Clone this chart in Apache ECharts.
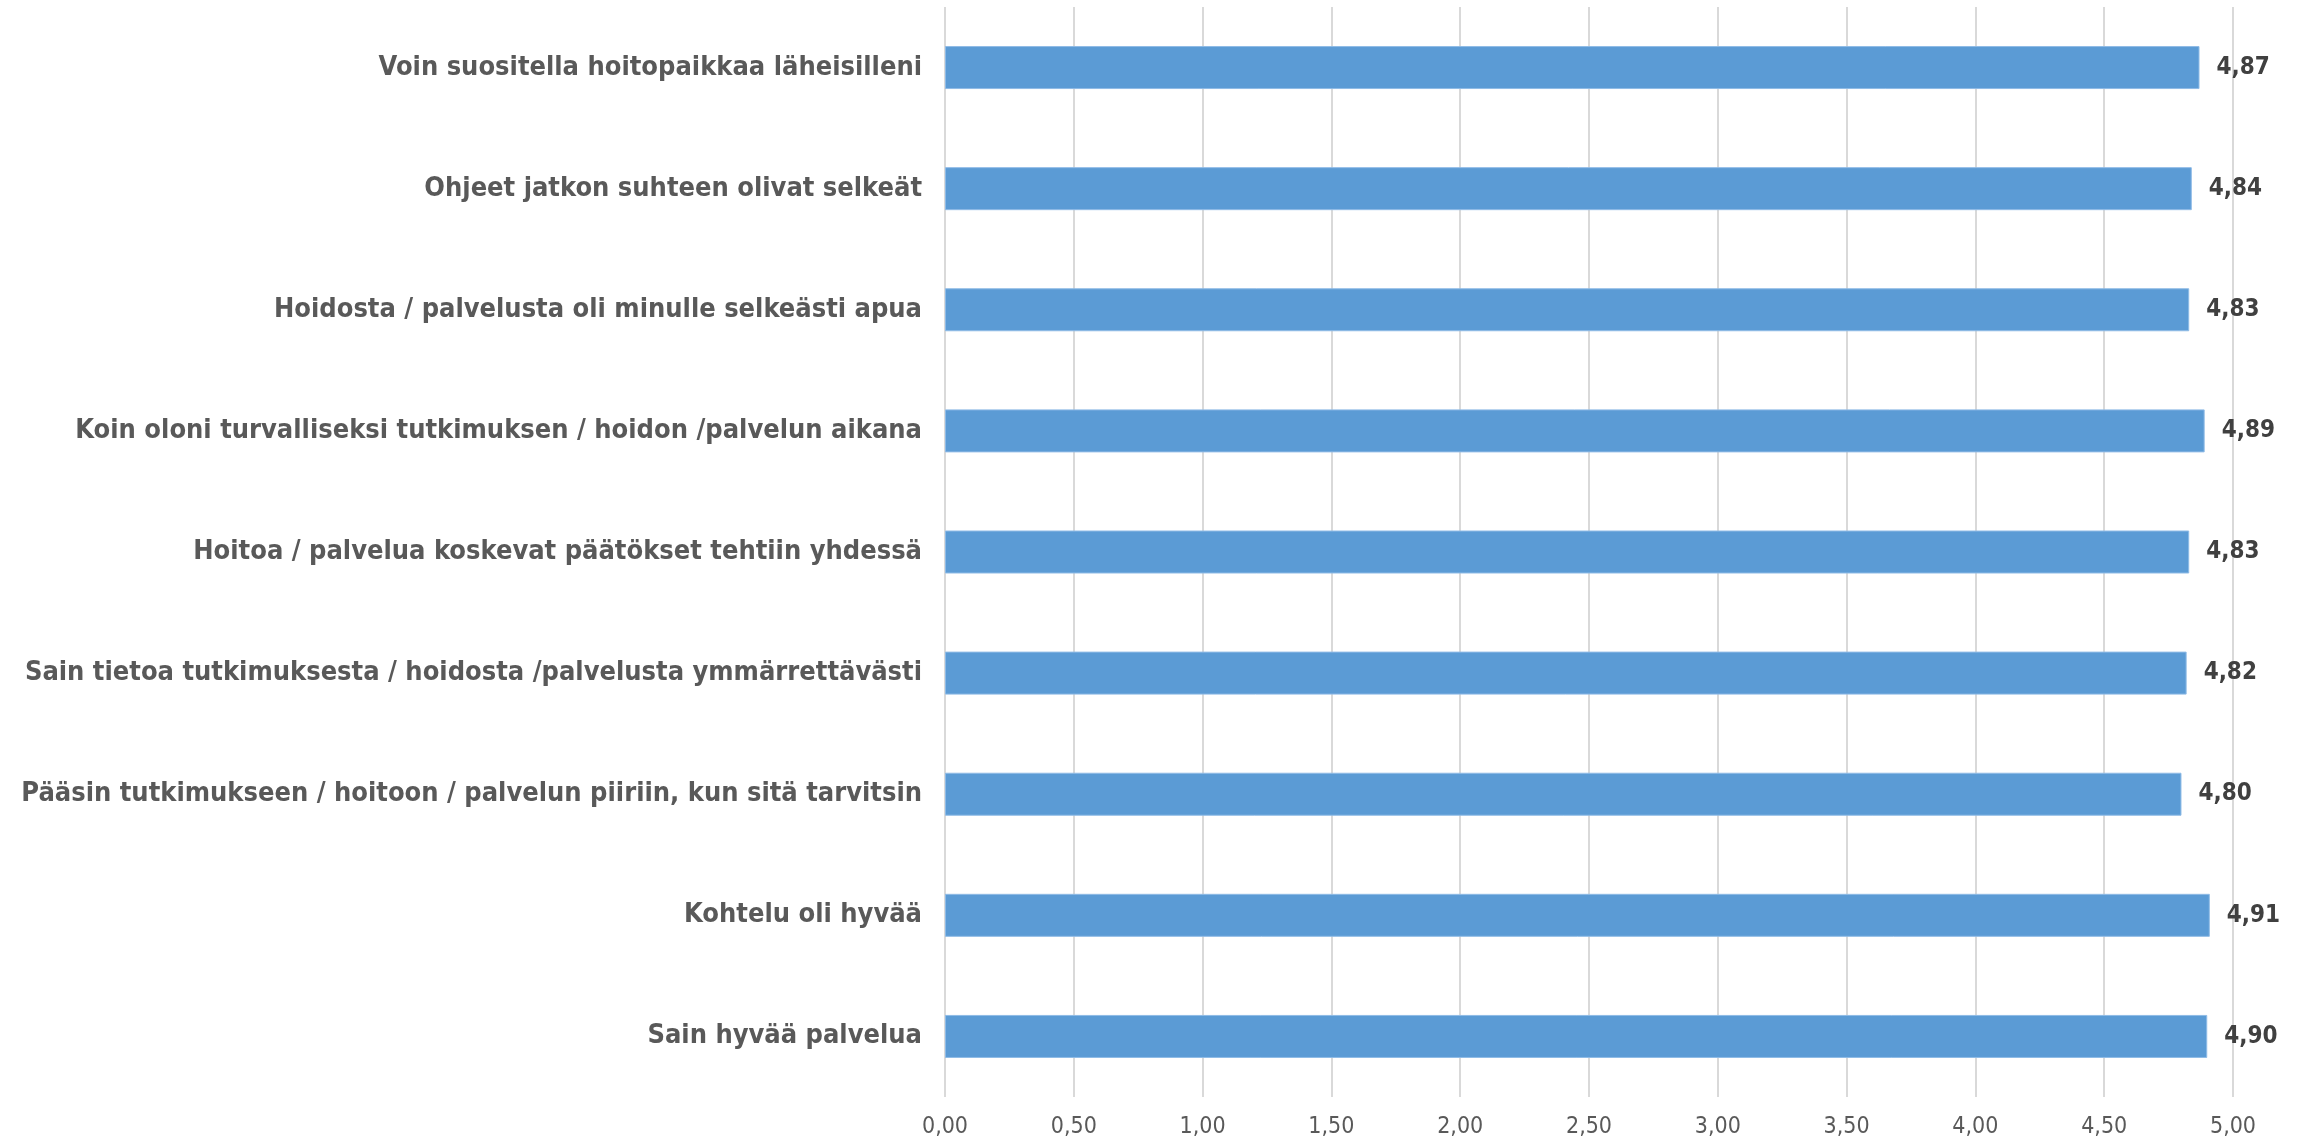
<!DOCTYPE html>
<html>
<head>
<meta charset="utf-8">
<script src="https://cdn.jsdelivr.net/npm/echarts@6/dist/echarts.min.js"></script>
<style>
html,body{margin:0;padding:0;background:#fff;}
#c{width:2305px;height:1142px;}
</style>
</head>
<body>
<div id="c"></div>
<script>
const categories = [
  "Voin suositella hoitopaikkaa läheisilleni",
  "Ohjeet jatkon suhteen olivat selkeät",
  "Hoidosta / palvelusta oli minulle selkeästi apua",
  "Koin oloni turvalliseksi tutkimuksen / hoidon /palvelun aikana",
  "Hoitoa / palvelua koskevat päätökset tehtiin yhdessä",
  "Sain tietoa tutkimuksesta / hoidosta /palvelusta ymmärrettävästi",
  "Pääsin tutkimukseen / hoitoon / palvelun piiriin, kun sitä tarvitsin",
  "Kohtelu oli hyvää",
  "Sain hyvää palvelua"
];
const values = [4.87, 4.84, 4.83, 4.89, 4.83, 4.82, 4.80, 4.91, 4.90];
const axisMin = 0, axisMax = 5, axisStep = 0.5;

const FONT = '"DejaVu Sans Condensed", "DejaVu Sans", sans-serif';
const fmt = v => v.toFixed(2).replace('.', ',');

const chart = echarts.init(document.getElementById('c'));
chart.setOption({
  animation: false,
  backgroundColor: '#ffffff',
  grid: { left: 945, right: 72, top: 7, bottom: 45, containLabel: false },
  xAxis: {
    type: 'value',
    min: axisMin, max: axisMax, interval: axisStep,
    axisLine: { show: false },
    axisTick: { show: false },
    splitLine: { show: true, lineStyle: { color: '#d9d9d9', width: 2 } },
    axisLabel: { color: '#595959', fontSize: 23, fontFamily: FONT, margin: 19, formatter: v => fmt(v) }
  },
  yAxis: {
    type: 'category',
    data: categories,
    inverse: true,
    axisLine: { show: false },
    axisTick: { show: false },
    axisLabel: { color: '#595959', fontSize: 27, fontWeight: 'bold', fontFamily: FONT, margin: 23 }
  },
  series: [{
    type: 'bar',
    data: values,
    barWidth: 43,
    itemStyle: { color: '#5b9bd5', borderColor: '#8fbbe6', borderWidth: 1 },
    label: {
      show: true, position: 'right', distance: 17,
      color: '#404040', fontSize: 24, fontWeight: 'bold', fontFamily: FONT,
      formatter: p => fmt(p.value)
    }
  }]
});
</script>
</body>
</html>
